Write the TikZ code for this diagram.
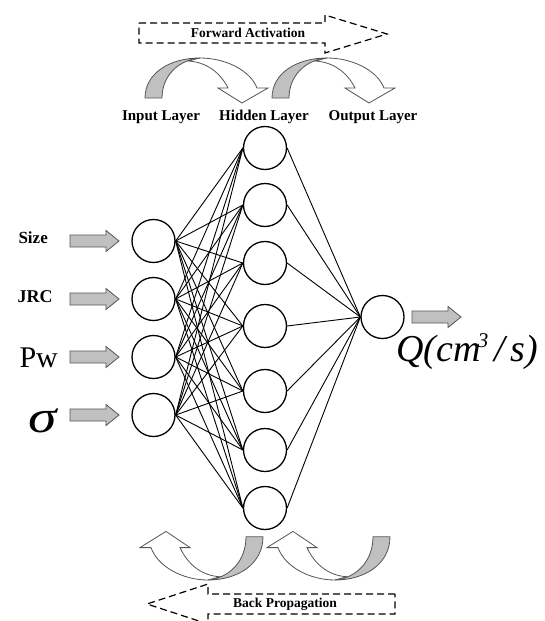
\documentclass[tikz,border=0pt]{standalone}
\usepackage{fontspec}
\setmainfont{Liberation Serif}
\definecolor{shadegray}{RGB}{192,192,192}
\definecolor{edgegray}{RGB}{85,85,85}
\usetikzlibrary{arrows.meta,positioning}

\tikzset{
  neuron/.style={circle, draw=black, line width=1.3pt,
                 minimum size=43pt, inner sep=0pt},
  link/.style={line width=0.9pt},
  flowbox/.style={draw=black, dash pattern=on 7pt off 4pt, line width=1.2pt},
  bendline/.style={draw=edgegray, line width=0.8pt},
  layertext/.style={font=\fontsize{15}{18}\selectfont\bfseries},
  flowtext/.style={font=\fontsize{13.5}{16}\selectfont\bfseries},
  pics/bendarrow/.style={code={
    \draw[bendline, fill=white] (0,0) .. controls (25,0) and (50,12) .. (57,30)
      -- (68,30) -- (42,45) -- (18,30) -- (28,30)
      .. controls (20,14) and (6,4) .. (-12,3) -- cycle;
    \draw[bendline, fill=shadegray] (-55,40) .. controls (-55,15) and (-30,0) .. (0,0)
      .. controls (-22,2) and (-38,18) .. (-38,40) -- cycle;
  }},
  pics/feedarrow/.style={code={
    \draw[bendline, fill=shadegray] (0,-6) -- (36,-6) -- (36,-10.5) -- (49,0)
      -- (36,10.5) -- (36,6) -- (0,6) -- cycle;
  }}
}

\begin{document}
\begin{tikzpicture}[x=1pt, y=-1pt, every node/.style={align=center}]
  \useasboundingbox (0,0) rectangle (545,621);

  % neurons
  \foreach \i/\y in {1/241, 2/299, 3/357, 4/415}
    \node[neuron] (in\i) at (153.5,\y) {};
  \foreach \i/\y in {1/148, 2/205, 3/263, 4/326, 5/391, 6/450, 7/508}
    \node[neuron] (hid\i) at (265,\y) {};
  \node[neuron] (out) at (382.5,317) {};

  % weights
  \foreach \a in {1,...,4}
    \foreach \b in {1,...,7}
      \draw[link] (in\a.east) -- (hid\b.west);
  \foreach \b in {1,...,7}
    \draw[link] (hid\b.east) -- (out.west);

  % inputs and output
  \node[anchor=base west, font=\fontsize{17}{20}\selectfont\bfseries] (lsize) at (15,243) {Size};
  \node[anchor=base west, font=\fontsize{18}{20}\selectfont\bfseries] (ljrc) at (14,302) {JRC};
  \node[anchor=base west, font=\fontsize{30}{32}\selectfont] (lpw) at (16,367) {Pw};
  \node[anchor=base west, font=\fontsize{46}{48}\selectfont\itshape] (lsig) at (25,432)
    {\scalebox{1.25}[1]{σ}};
  \foreach \y in {241, 299, 357, 415}
    \pic at (70,\y) {feedarrow};
  \pic at (412,317) {feedarrow};
  \node[anchor=base west, font=\fontsize{38}{40}\selectfont\itshape] (lq) at (393,361)
    {Q(cm\kern-3pt\raisebox{14pt}{\fontsize{21}{21}\selectfont 3}\kern6pt/\kern6pt s)};

  % layer names
  \node[layertext] (tin) at (161,117) {Input Layer};
  \node[layertext] (thid) at (264,117) {Hidden Layer};
  \node[layertext] (tout) at (373,117) {Output Layer};

  % forward / back
  \draw[flowbox] (139,23) -- (325,23) -- (325,15) -- (387,34) -- (325,53)
    -- (325,43) -- (139,43) -- cycle;
  \node[flowtext] (tfwd) at (248,33) {Forward Activation};
  \pic at (200,58) {bendarrow};
  \pic at (327,58) {bendarrow};

  \draw[flowbox] (395,594) -- (208,594) -- (208,584) -- (147,604) -- (208,624)
    -- (208,614) -- (395,614) -- cycle;
  \node[flowtext] (tback) at (285,604) {Back Propagation};
  \pic[rotate=180, yscale=1.08] at (208,580) {bendarrow};
  \pic[rotate=180, yscale=1.08] at (335,580) {bendarrow};
\end{tikzpicture}
\end{document}
